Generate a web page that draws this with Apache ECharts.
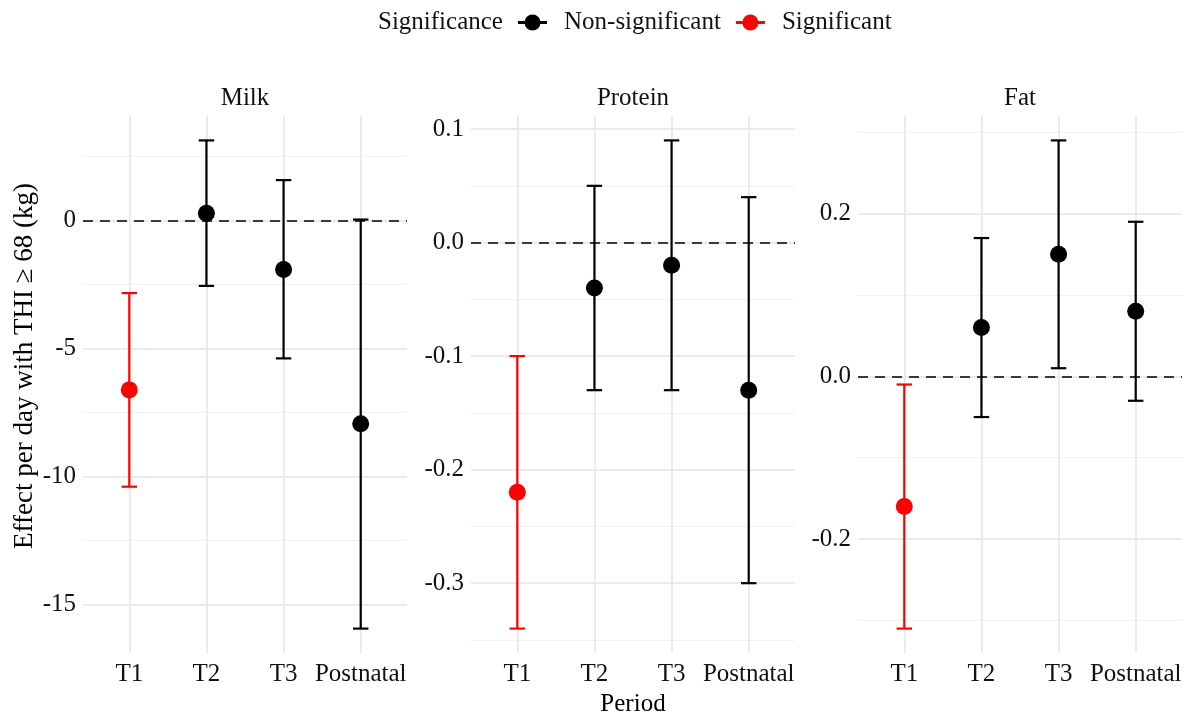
<!DOCTYPE html>
<html><head><meta charset="utf-8">
<script src="https://cdn.jsdelivr.net/npm/echarts@6/dist/echarts.min.js"></script>
<style>html,body{margin:0;padding:0;background:#fff}#c{width:1184px;height:712px}</style>
</head><body><div id="c"></div>
<script>
// ---- data ----
const periods = ['T1', 'T2', 'T3', 'Postnatal'];
const panelNames = ['Milk', 'Protein', 'Fat'];

const milkEst  = [-6.62, 0.28, -1.92, -7.94];
const milkLow  = [-10.40, -2.56, -5.39, -15.94];
const milkHigh = [-2.84, 3.12, 1.57, 0.03];
const milkSig  = ['Significant', 'Non-significant', 'Non-significant', 'Non-significant'];

const proteinEst  = [-0.22, -0.04, -0.02, -0.13];
const proteinLow  = [-0.34, -0.13, -0.13, -0.30];
const proteinHigh = [-0.10, 0.05, 0.09, 0.04];
const proteinSig  = ['Significant', 'Non-significant', 'Non-significant', 'Non-significant'];

const fatEst  = [-0.16, 0.06, 0.15, 0.08];
const fatLow  = [-0.31, -0.05, 0.01, -0.03];
const fatHigh = [-0.01, 0.17, 0.29, 0.19];
const fatSig  = ['Significant', 'Non-significant', 'Non-significant', 'Non-significant'];

const milkTicks = [-15, -10, -5, 0];
const milkMinor = [-12.5, -7.5, -2.5, 2.5];
const proteinTicks = [-0.3, -0.2, -0.1, 0, 0.1];
const proteinMinor = [-0.35, -0.25, -0.15, -0.05, 0.05];
const fatTicks = [-0.2, 0, 0.2];
const fatMinor = [-0.3, -0.1, 0.1, 0.3];

const refValue = 0;
const groups = ['Non-significant', 'Significant'];
const yTitle = 'Effect per day with THI \u2265 68 (kg)';
const xTitle = 'Period';
const legendTitle = 'Significance';

// ---- styling / layout ----
const FONT = '"Liberation Serif", "Times New Roman", serif';
const colors = { 'Non-significant': '#000000', 'Significant': '#ff0000' };
const gridLeft = [83, 471, 858];
const gridW = 324, gridTop = 116, gridH = 537;
const capWidth = 0.2;
const FS = 25;

const panels = [
  { est: milkEst, low: milkLow, high: milkHigh, sig: milkSig, ticks: milkTicks, minor: milkMinor, fmt: v => String(Math.round(v)) },
  { est: proteinEst, low: proteinLow, high: proteinHigh, sig: proteinSig, ticks: proteinTicks, minor: proteinMinor, fmt: v => Number(v).toFixed(1) },
  { est: fatEst, low: fatLow, high: fatHigh, sig: fatSig, ticks: fatTicks, minor: fatMinor, fmt: v => Number(v).toFixed(1) }
];

function errorBar(params, api) {
  const x = api.value(0);
  const lo = api.coord([x, api.value(1)]);
  const hi = api.coord([x, api.value(2)]);
  const half = api.size([capWidth, 0])[0] / 2;
  const st = { stroke: api.visual('color'), lineWidth: 2.2 };
  return { type: 'group', children: [
    { type: 'line', shape: { x1: lo[0], y1: lo[1], x2: hi[0], y2: hi[1] }, style: st },
    { type: 'line', shape: { x1: lo[0] - half, y1: lo[1], x2: lo[0] + half, y2: lo[1] }, style: st },
    { type: 'line', shape: { x1: hi[0] - half, y1: hi[1], x2: hi[0] + half, y2: hi[1] }, style: st }
  ]};
}

const grids = [], xAxes = [], yAxes = [], series = [], graphics = [];
panels.forEach((p, i) => {
  const lo = Math.min(...p.low), hi = Math.max(...p.high);
  const pad = (hi - lo) * 0.05;
  const yMin = lo - pad, yMax = hi + pad;
  grids.push({ left: gridLeft[i], width: gridW, top: gridTop, height: gridH, containLabel: false, outerBoundsMode: 'none' });
  xAxes.push({
    type: 'value', gridIndex: i, min: 0.4, max: 4.6,
    axisLine: { show: false },
    axisTick: { show: false, customValues: [1, 2, 3, 4] },
    axisLabel: { customValues: [1, 2, 3, 4], formatter: v => periods[Math.round(v) - 1] || '',
      fontFamily: FONT, fontSize: FS, color: '#111', margin: 9 },
    splitLine: { show: true, lineStyle: { color: '#ebebeb', width: 2 } },
    name: i === 1 ? xTitle : '', nameLocation: 'middle', nameGap: 36,
    nameTextStyle: { fontFamily: FONT, fontSize: FS, color: '#000' }
  });
  yAxes.push({
    type: 'value', gridIndex: i, min: yMin, max: yMax, position: 'left',
    axisLine: { show: false },
    axisTick: { show: false, customValues: p.ticks },
    axisLabel: { customValues: p.ticks, formatter: p.fmt, fontFamily: FONT, fontSize: FS, color: '#111', margin: 7 },
    splitLine: { show: true, lineStyle: { color: '#ebebeb', width: 2 } }
  });
  yAxes.push({
    type: 'value', gridIndex: i, min: yMin, max: yMax, position: 'left', offset: 0,
    axisLine: { show: false },
    axisTick: { show: false, customValues: p.minor },
    axisLabel: { show: false, customValues: p.minor },
    splitLine: { show: true, lineStyle: { color: '#f1f1f1', width: 1 } }
  });
  groups.forEach((g, gi) => {
    const barData = [], ptData = [];
    periods.forEach((per, j) => {
      if (p.sig[j] === g) {
        barData.push([j + 1, p.low[j], p.high[j]]);
        ptData.push([j + 1, p.est[j]]);
      }
    });
    series.push({
      type: 'custom', name: g, xAxisIndex: i, yAxisIndex: 2 * i,
      renderItem: errorBar, data: barData, encode: { x: 0, y: [1, 2] },
      itemStyle: { color: colors[g] }, z: 3, silent: true,
      markLine: gi === 0 ? {
        silent: true, symbol: 'none', label: { show: false },
        lineStyle: { color: '#000', type: [10, 7], width: 1.7 },
        data: [{ yAxis: refValue }], z: 2
      } : undefined
    });
    series.push({
      type: 'scatter', name: g, xAxisIndex: i, yAxisIndex: 2 * i,
      data: ptData, symbolSize: 17, itemStyle: { color: colors[g], opacity: 1 }, z: 4, silent: true
    });
  });
  graphics.push({
    type: 'text', x: gridLeft[i] + gridW / 2, y: 98,
    style: { text: panelNames[i], fontFamily: FONT, fontSize: FS, fill: '#111', align: 'center', verticalAlign: 'middle' }
  });
});

// y-axis title, centred over strips + panels as ggplot does
graphics.push({
  type: 'text', x: 25, y: 366, rotation: Math.PI / 2,
  style: { text: yTitle, fontFamily: FONT, fontSize: 27, fill: '#000', align: 'center', verticalAlign: 'middle' }
});
graphics.push({
  type: 'text', x: 378, y: 22,
  style: { text: legendTitle, fontFamily: FONT, fontSize: FS, fill: '#111', align: 'left', verticalAlign: 'middle' }
});

const ICON = 'path://M0,6.5 L8,6.5 L8,9.5 L0,9.5 Z M21,6.5 L29,6.5 L29,9.5 L21,9.5 Z M6.5,8 A8,8 0 1,1 22.5,8 A8,8 0 1,1 6.5,8 Z';

const chart = echarts.init(document.getElementById('c'), null, { renderer: 'canvas' });
chart.setOption({
  backgroundColor: '#ffffff',
  animation: false,
  grid: grids, xAxis: xAxes, yAxis: yAxes, series: series,
  legend: {
    data: groups.map(g => ({ name: g, icon: ICON })),
    left: 513, top: 5, itemWidth: 29, itemHeight: 16, itemGap: 15,
    textStyle: { fontFamily: FONT, fontSize: FS, color: '#111', padding: [0, 0, 0, 12] },
    selectedMode: false
  },
  graphic: graphics
});
</script></body></html>
